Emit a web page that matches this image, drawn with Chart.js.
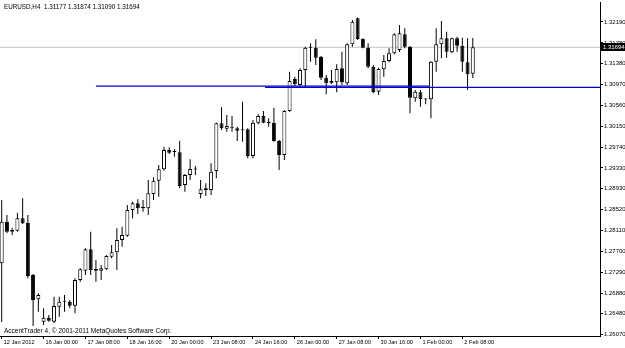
<!DOCTYPE html>
<html lang="en">
<head>
  <meta charset="UTF-8" />
  <title>EURUSD,H4</title>
  <script src="https://cdn.jsdelivr.net/npm/chart.js"></script>
  <style>
    * { margin: 0; padding: 0; box-sizing: border-box; }
    body { background: #ffffff; width: 625px; height: 348px; overflow: hidden; }
  </style>
</head>
<body>
  <canvas id="grafico" width="625" height="348"></canvas>

  <script>
    // header / footer texts
    const symbolName = 'EURUSD,H4';
    const copyright = 'AccentTrader 4, \u00a9 2001-2011 MetaQuotes Software Corp.';

    // H4 candles, bar 0 = 12 Jan 2012 16:00
    const opens = [
      1.27463, 1.28278, 1.28082, 1.28101, 1.28344, 1.28258, 1.27234, 1.26758, 1.26319, 1.26397,
      1.26319, 1.26613, 1.26711, 1.26711, 1.26632, 1.27136, 1.27318, 1.27737, 1.27351, 1.27318,
      1.27345, 1.27592, 1.27678, 1.27919, 1.28003, 1.28507, 1.28638, 1.28572, 1.28540, 1.28820,
      1.29081, 1.29304, 1.29682, 1.29643, 1.29637, 1.28997, 1.29193, 1.29310, 1.28820, 1.28932,
      1.28899, 1.29271, 1.30205, 1.30099, 1.30113, 1.30107, 1.30068, 1.30088, 1.29565, 1.30217,
      1.30348, 1.30237, 1.30217, 1.29859, 1.29584, 1.30446, 1.31073, 1.30956, 1.31249, 1.31686,
      1.31686, 1.31510, 1.31098, 1.30989, 1.31008, 1.31283, 1.30989, 1.31753, 1.32262, 1.31857,
      1.31686, 1.31314, 1.30824, 1.31263, 1.31426, 1.31577, 1.31641, 1.31949, 1.31706, 1.30695,
      1.30813, 1.30681, 1.30675, 1.31412, 1.31753, 1.31870, 1.31596, 1.31870, 1.31725, 1.31400,
      1.31177
    ];
    const highs = [
      1.28703, 1.28409, 1.28160, 1.28454, 1.28736, 1.28409, 1.27253, 1.26875, 1.26581, 1.26450,
      1.26809, 1.26809, 1.26842, 1.26744, 1.27169, 1.27365, 1.27757, 1.28082, 1.27528, 1.27430,
      1.27625, 1.27821, 1.28148, 1.28180, 1.28605, 1.28670, 1.28717, 1.28703, 1.29095, 1.29148,
      1.29388, 1.29747, 1.29735, 1.29696, 1.29864, 1.29212, 1.29500, 1.29369, 1.29095, 1.29030,
      1.29422, 1.30221, 1.30519, 1.30368, 1.30348, 1.30139, 1.30628, 1.30107, 1.30270, 1.30382,
      1.30446, 1.30303, 1.30511, 1.29878, 1.30466, 1.31216, 1.31118, 1.31283, 1.31706, 1.31772,
      1.31851, 1.31524, 1.31151, 1.31249, 1.31361, 1.31608, 1.31772, 1.32229, 1.32278, 1.31870,
      1.31772, 1.31347, 1.31294, 1.31543, 1.31674, 1.31968, 1.32131, 1.32066, 1.31720, 1.30858,
      1.30858, 1.30695, 1.31426, 1.32066, 1.32209, 1.32000, 1.31882, 1.31902, 1.31882, 1.31870,
      1.31874
    ];
    const lows = [
      1.26313, 1.28051, 1.28017, 1.28082, 1.28233, 1.27169, 1.26235, 1.26515, 1.26254, 1.26319,
      1.26287, 1.26417, 1.26515, 1.26581, 1.26483, 1.27102, 1.27234, 1.27234, 1.27102, 1.27136,
      1.27332, 1.27561, 1.27332, 1.27788, 1.27984, 1.28344, 1.28429, 1.28474, 1.28409, 1.28703,
      1.28767, 1.29277, 1.29604, 1.29551, 1.28932, 1.28865, 1.29095, 1.29193, 1.28736, 1.28781,
      1.28801, 1.29128, 1.30074, 1.30041, 1.30041, 1.29859, 1.29845, 1.29520, 1.29520, 1.30186,
      1.30205, 1.30139, 1.29845, 1.29291, 1.29486, 1.30432, 1.30922, 1.30942, 1.30922, 1.31412,
      1.31347, 1.31054, 1.30773, 1.30975, 1.30813, 1.30956, 1.30956, 1.31706, 1.31837, 1.31674,
      1.31283, 1.30793, 1.30760, 1.31118, 1.31400, 1.31557, 1.31602, 1.31674, 1.30401, 1.30628,
      1.30530, 1.30577, 1.30303, 1.31216, 1.31479, 1.31490, 1.31577, 1.31608, 1.31216, 1.30858,
      1.31090
    ];
    const closes = [
      1.28278, 1.28082, 1.28115, 1.28344, 1.28246, 1.27214, 1.26744, 1.26842, 1.26397, 1.26338,
      1.26626, 1.26711, 1.26718, 1.26632, 1.27136, 1.27345, 1.27737, 1.27332, 1.27318, 1.27365,
      1.27606, 1.27678, 1.27919, 1.28017, 1.28507, 1.28638, 1.28540, 1.28540, 1.28834, 1.29081,
      1.29304, 1.29682, 1.29629, 1.29649, 1.28977, 1.29193, 1.29310, 1.29300, 1.28912, 1.28899,
      1.29257, 1.30205, 1.30107, 1.30152, 1.30107, 1.30060, 1.30074, 1.29565, 1.30217, 1.30348,
      1.30217, 1.30205, 1.29859, 1.29584, 1.30446, 1.31034, 1.30969, 1.31249, 1.31686, 1.31692,
      1.31490, 1.31098, 1.30989, 1.31034, 1.31269, 1.31008, 1.31753, 1.32196, 1.31857, 1.31686,
      1.31314, 1.30813, 1.31269, 1.31426, 1.31577, 1.31949, 1.31968, 1.31706, 1.30707, 1.30824,
      1.30681, 1.30673, 1.31412, 1.31753, 1.31870, 1.31608, 1.31870, 1.31725, 1.31412, 1.31165,
      1.31694
    ];

    // time scale labels (every 8 bars)
    const timeTicks = [0, 8, 16, 24, 32, 40, 48, 56, 64, 72, 80, 88];
    const timeLabels = [
      '12 Jan 2012', '16 Jan 00:00', '17 Jan 08:00', '18 Jan 16:00', '20 Jan 00:00', '23 Jan 08:00',
      '24 Jan 16:00', '26 Jan 00:00', '27 Jan 08:00', '30 Jan 16:00', '1 Feb 00:00', '2 Feb 08:00'
    ];

    // price scale labels
    const priceTicks = [
      1.26070, 1.26480, 1.26880, 1.27290, 1.27700, 1.28110, 1.28520, 1.28930,
      1.29330, 1.29740, 1.30150, 1.30560, 1.30970, 1.31380, 1.31780, 1.32190
    ];
    const priceMin = 1.26039;
    const priceMax = 1.32581;
    const barMin = -0.325;
    const barMax = 114.3;

    // drawn horizontal lines (bar index, price)
    const blueLineA = [[18, 1.30935], [81.8, 1.30935]];
    const blueLineB = [[50.3, 1.30910], [114.3, 1.30910]];

    const lastClose = closes[closes.length - 1];

    const bodies = opens.map((o, i) => ({ x: i, y: [o, closes[i]] }));
    const wicks = lows.map((l, i) => ({ x: i, y: [l, highs[i]] }));
    const bodyColors = opens.map((o, i) => (closes[i] >= o ? '#ffffff' : '#000000'));

    const uiFont = '"Liberation Sans", Arial, sans-serif';

    // texts and the current price box
    const extras = {
      id: 'extras',
      afterDraw(chart) {
        const { ctx, scales } = chart;
        const y = scales.y;
        const right = chart.chartArea.right;
        ctx.save();
        ctx.fillStyle = '#000000';
        ctx.textBaseline = 'top';
        ctx.font = '6.3px ' + uiFont;
        ctx.fillText(symbolName + '  ' + [opens, highs, lows, closes].map((a) => a[a.length - 1].toFixed(5)).join(' '), 4, 4);
        ctx.font = '6.5px ' + uiFont;
        ctx.fillText(copyright, 4, 328);

        const py = Math.round(y.getPixelForValue(lastClose));
        ctx.fillStyle = '#000000';
        ctx.fillRect(right + 1, py - 4, 24, 8);
        ctx.fillStyle = '#ffffff';
        ctx.textBaseline = 'middle';
        ctx.font = '6px ' + uiFont;
        ctx.fillText(lastClose.toFixed(5), right + 3, py + 0.5);
        ctx.restore();
      }
    };

    const ctx = document.getElementById('grafico').getContext('2d');
    new Chart(ctx, {
      type: 'bar',
      data: {
        datasets: [
          {
            type: 'line',
            data: blueLineA.map((p) => ({ x: p[0], y: p[1] })),
            borderColor: '#0000cc',
            borderWidth: 1.2,
            pointRadius: 0,
            order: 0
          },
          {
            type: 'line',
            data: blueLineB.map((p) => ({ x: p[0], y: p[1] })),
            borderColor: '#0000cc',
            borderWidth: 1.2,
            pointRadius: 0,
            order: 0
          },
          {
            data: bodies,
            backgroundColor: bodyColors,
            borderColor: '#000000',
            borderWidth: 1,
            borderSkipped: false,
            barThickness: 4,
            minBarLength: 1,
            inflateAmount: 0,
            grouped: false,
            order: 1
          },
          {
            data: wicks,
            backgroundColor: '#000000',
            borderWidth: 0,
            barThickness: 1,
            inflateAmount: 0,
            grouped: false,
            order: 2
          },
          {
            type: 'line',
            data: [{ x: barMin, y: lastClose }, { x: barMax, y: lastClose }],
            borderColor: '#c4c4c4',
            borderWidth: 1,
            pointRadius: 0,
            order: 3
          }
        ]
      },
      options: {
        responsive: false,
        animation: false,
        devicePixelRatio: 1,
        layout: { padding: { top: 2, left: 0, right: 0, bottom: 0 } },
        plugins: {
          legend: { display: false },
          tooltip: { enabled: false }
        },
        scales: {
          x: {
            type: 'linear',
            min: barMin,
            max: barMax,
            offset: false,
            grid: { display: true, offset: false, drawOnChartArea: false, drawTicks: true, tickLength: 3, color: '#000000' },
            border: { display: true, color: '#000000' },
            afterBuildTicks: (scale) => { scale.ticks = timeTicks.map((v) => ({ value: v })); },
            afterFit: (scale) => { scale.height = 12; scale.paddingLeft = 0; scale.paddingRight = 0; },
            ticks: {
              autoSkip: false,
              maxRotation: 0,
              align: 'start',
              labelOffset: 2,
              padding: 0,
              color: '#000000',
              font: { family: uiFont, size: 5.6 },
              callback: (v) => timeLabels[timeTicks.indexOf(v)]
            }
          },
          y: {
            position: 'right',
            min: priceMin,
            max: priceMax,
            beginAtZero: false,
            grid: { display: true, drawOnChartArea: false, drawTicks: true, tickLength: 3, color: '#000000' },
            border: { display: true, color: '#000000' },
            afterBuildTicks: (scale) => { scale.ticks = priceTicks.map((v) => ({ value: v })); },
            afterFit: (scale) => { scale.width = 25; scale.paddingTop = 0; scale.paddingBottom = 0; },
            ticks: {
              padding: 1,
              color: '#000000',
              font: { family: uiFont, size: 6 },
              callback: (v) => v.toFixed(5)
            }
          }
        }
      },
      plugins: [extras]
    });
  </script>
</body>
</html>
